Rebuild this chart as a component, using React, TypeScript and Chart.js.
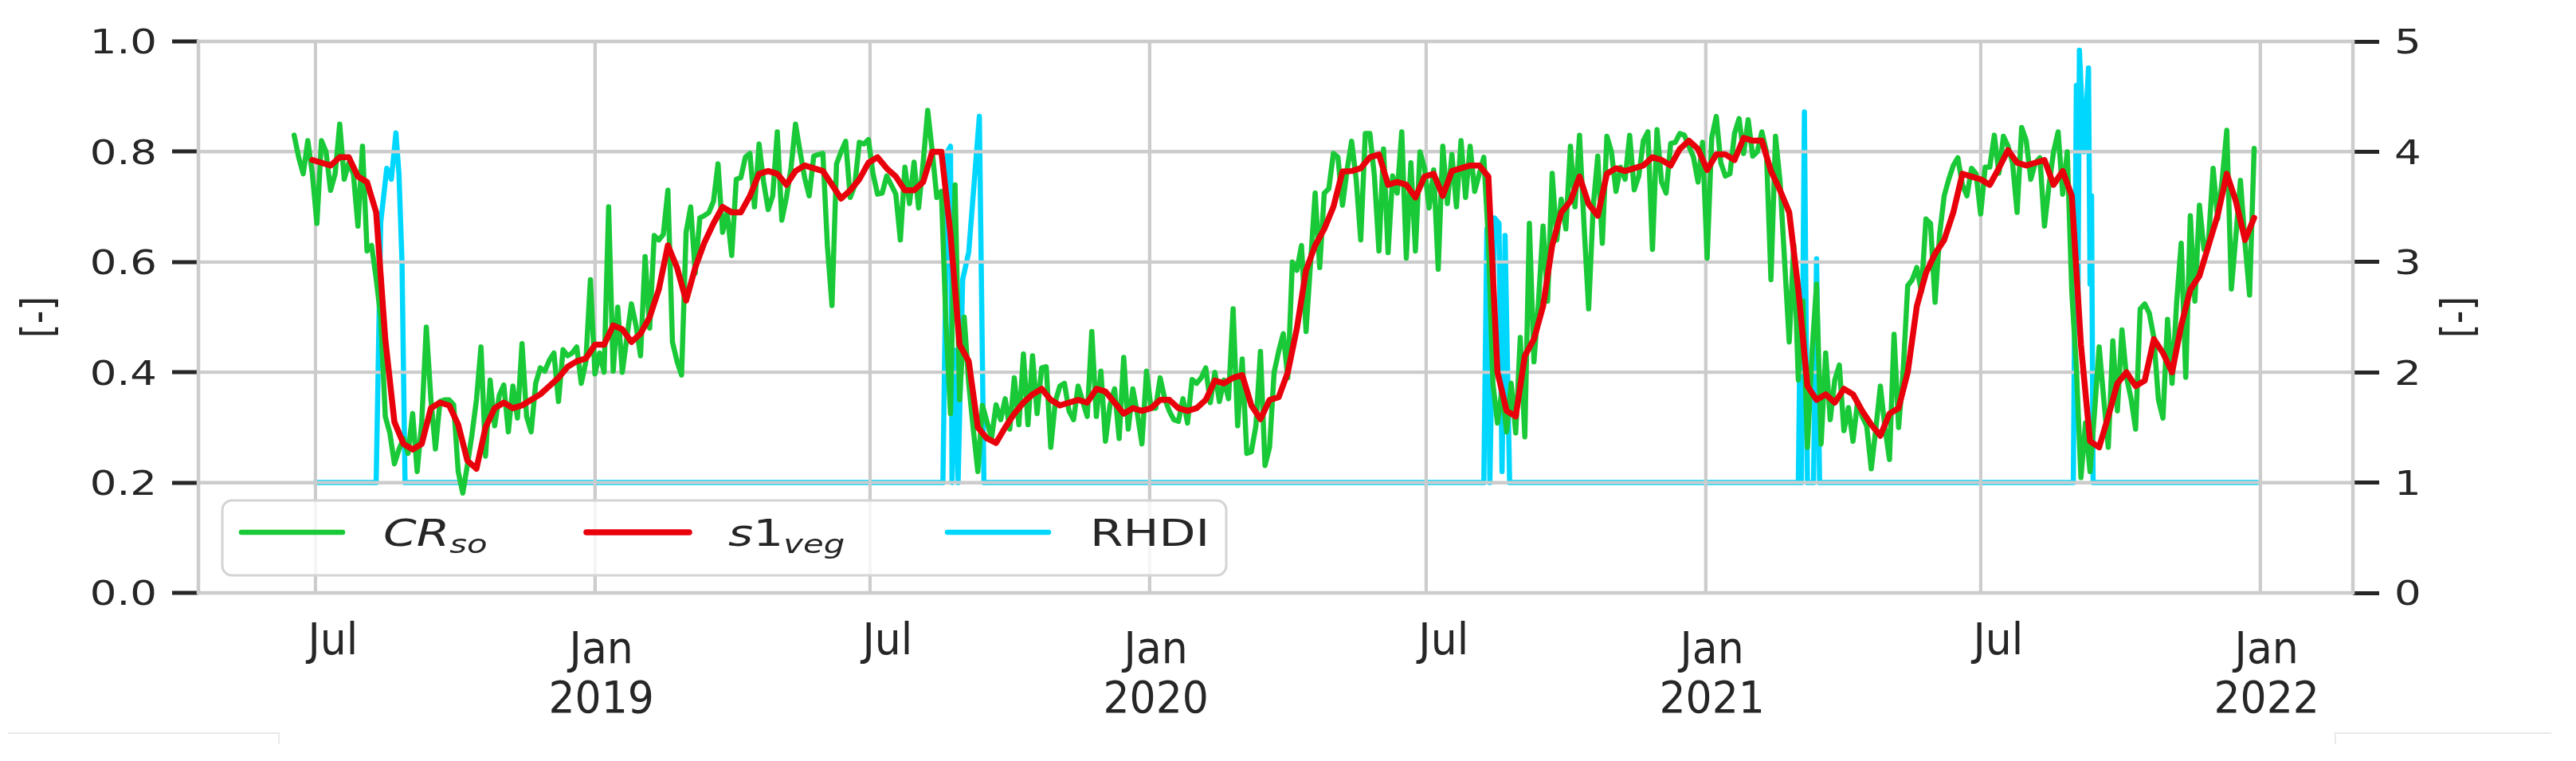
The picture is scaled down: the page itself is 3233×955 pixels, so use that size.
import React, { useEffect, useRef } from 'react';
import { Chart, registerables } from 'chart.js';

Chart.register(...registerables);

// ---------------- data ----------------
const SERIES_NAMES = ['CR_so', 's1_veg', 'RHDI'];
const SERIES_MATH = [true, true, false];
const SERIES_COLORS = ['#1AC938', '#E8000B', '#00D7FF'];

// CR_so: regular 3-day sampling
const CR_SO_START = '2018-06-17';
const CR_SO_STEP_DAYS = 3;
const CR_SO = [
  0.83, 0.79, 0.76, 0.82, 0.76, 0.67, 0.82, 0.80, 0.73, 0.76,
  0.85, 0.75, 0.78, 0.76, 0.665, 0.81, 0.62, 0.63, 0.57, 0.50,
  0.32, 0.29, 0.234, 0.26, 0.28, 0.253, 0.325, 0.22, 0.31, 0.482,
  0.352, 0.261, 0.347, 0.35, 0.35, 0.341, 0.22, 0.181, 0.231, 0.286,
  0.35, 0.446, 0.248, 0.386, 0.303, 0.358, 0.377, 0.292, 0.375, 0.317,
  0.452, 0.32, 0.292, 0.38, 0.408, 0.402, 0.422, 0.435, 0.347, 0.441,
  0.43, 0.435, 0.446, 0.38, 0.419, 0.568, 0.397, 0.435, 0.40, 0.70,
  0.402, 0.518,
  0.40, 0.463, 0.524, 0.485, 0.43, 0.61, 0.48, 0.648, 0.64, 0.65,
  0.73, 0.455, 0.42, 0.395, 0.654, 0.70, 0.58, 0.68, 0.684, 0.69,
  0.71, 0.778, 0.654, 0.69, 0.612, 0.75, 0.753, 0.79, 0.797, 0.70,
  0.814, 0.745, 0.695, 0.72, 0.836, 0.676, 0.717, 0.77, 0.85, 0.80,
  0.753, 0.72, 0.792, 0.795, 0.797, 0.629, 0.521, 0.778, 0.80, 0.819,
  0.717, 0.739, 0.817, 0.814, 0.822, 0.76, 0.723, 0.725, 0.756, 0.74,
  0.723, 0.64, 0.772, 0.706, 0.781, 0.698, 0.78, 0.875, 0.80, 0.717,
  0.728, 0.49,
  0.325, 0.74, 0.35, 0.50, 0.38, 0.297, 0.22, 0.34, 0.31, 0.28,
  0.341, 0.314, 0.352, 0.297, 0.39, 0.305, 0.433, 0.305, 0.43, 0.325,
  0.408, 0.41, 0.264, 0.347, 0.375, 0.38, 0.33, 0.314, 0.375, 0.347,
  0.32, 0.474, 0.32, 0.402, 0.275, 0.341, 0.37, 0.28, 0.427, 0.297,
  0.37, 0.325, 0.27, 0.402, 0.335, 0.335, 0.39, 0.352, 0.33, 0.314,
  0.311, 0.352, 0.308, 0.387, 0.38, 0.39, 0.408, 0.345, 0.40, 0.347,
  0.386, 0.352, 0.515, 0.303, 0.424, 0.253, 0.256, 0.303, 0.438, 0.231,
  0.264, 0.40,
  0.438, 0.47, 0.39, 0.60, 0.585, 0.63, 0.474, 0.60, 0.725, 0.59,
  0.725, 0.733, 0.797, 0.79, 0.703, 0.767, 0.819, 0.75, 0.64, 0.833,
  0.833, 0.756, 0.62, 0.805, 0.617, 0.756, 0.725, 0.836, 0.607, 0.78,
  0.62, 0.80, 0.77, 0.698, 0.767, 0.587, 0.81, 0.706, 0.795, 0.70,
  0.82, 0.717, 0.81, 0.728, 0.76, 0.79, 0.64, 0.38, 0.308, 0.369,
  0.292, 0.38, 0.29, 0.463, 0.283, 0.67, 0.419, 0.529, 0.665, 0.529,
  0.761, 0.64, 0.714, 0.66, 0.81, 0.70, 0.83, 0.665, 0.515, 0.70,
  0.792, 0.634, 0.828,
  0.80, 0.728, 0.772, 0.75, 0.83, 0.731, 0.756, 0.82, 0.836, 0.623,
  0.84, 0.745, 0.725, 0.815, 0.817, 0.833, 0.83, 0.81, 0.79, 0.745,
  0.817, 0.607, 0.825, 0.864, 0.78, 0.756, 0.76, 0.833, 0.86, 0.797,
  0.858, 0.792, 0.80, 0.836, 0.80, 0.568, 0.828, 0.745, 0.60, 0.455,
  0.631, 0.386, 0.529, 0.264, 0.435, 0.56, 0.27, 0.435, 0.314, 0.386,
  0.413, 0.294, 0.336, 0.275, 0.347, 0.32, 0.303, 0.225, 0.297, 0.375,
  0.30, 0.242, 0.469, 0.30, 0.402, 0.557, 0.568, 0.59, 0.546, 0.678,
  0.67, 0.527, 0.65,
  0.72, 0.75, 0.775, 0.789, 0.74, 0.72, 0.77, 0.76, 0.687, 0.772,
  0.772, 0.83, 0.761, 0.828, 0.81, 0.78, 0.69, 0.844, 0.82, 0.75,
  0.78, 0.789, 0.665, 0.739, 0.80, 0.836, 0.723, 0.80, 0.546, 0.408,
  0.209, 0.308, 0.22, 0.33, 0.446, 0.352, 0.264, 0.457, 0.33, 0.477,
  0.391, 0.352, 0.297, 0.515, 0.524, 0.507, 0.463, 0.35, 0.317, 0.496,
  0.38, 0.527, 0.634, 0.391, 0.684, 0.529, 0.703, 0.623, 0.64, 0.77,
  0.678, 0.75, 0.839, 0.551, 0.648, 0.748, 0.634, 0.54, 0.806,
];

// s1_veg: regular 6-day sampling
const S1_VEG_START = '2018-06-17';
const S1_VEG_STEP_DAYS = 6;
const S1_VEG = [
  null, null, 0.785, 0.78, 0.775, 0.79, 0.79, 0.755, 0.745, 0.69,
  0.46, 0.31, 0.27, 0.26, 0.27, 0.335, 0.345, 0.34, 0.305, 0.24,
  0.225, 0.30, 0.335, 0.345, 0.335, 0.34, 0.35, 0.36, 0.375, 0.39,
  0.41, 0.42, 0.425, 0.45, 0.45, 0.485,
  0.478, 0.455, 0.47, 0.50, 0.55, 0.63, 0.59, 0.53, 0.59, 0.635,
  0.67, 0.70, 0.69, 0.69, 0.72, 0.76, 0.765, 0.76, 0.74, 0.765,
  0.775, 0.77, 0.765, 0.74, 0.715, 0.73, 0.75, 0.78, 0.79, 0.77,
  0.755, 0.73, 0.73, 0.745, 0.80, 0.80,
  0.65, 0.45, 0.42, 0.30, 0.28, 0.272, 0.30, 0.325, 0.345, 0.36,
  0.37, 0.35, 0.34, 0.345, 0.35, 0.345, 0.37, 0.365, 0.345, 0.325,
  0.335, 0.33, 0.335, 0.35, 0.35, 0.335, 0.33, 0.335, 0.35, 0.385,
  0.38, 0.39, 0.395, 0.34, 0.315, 0.35,
  0.355, 0.40, 0.48, 0.585, 0.63, 0.66, 0.70, 0.764, 0.765, 0.77,
  0.79, 0.795, 0.74, 0.745, 0.74, 0.717, 0.755, 0.76, 0.72, 0.765,
  0.77, 0.775, 0.775, 0.755, 0.40, 0.33, 0.32, 0.43, 0.46, 0.52,
  0.63, 0.69, 0.71, 0.755, 0.705, 0.684, 0.76,
  0.77, 0.765, 0.77, 0.775, 0.79, 0.785, 0.775, 0.805, 0.82, 0.805,
  0.767, 0.795, 0.795, 0.785, 0.825, 0.82, 0.82, 0.765, 0.73, 0.69,
  0.55, 0.375, 0.35, 0.36, 0.345, 0.37, 0.36, 0.33, 0.305, 0.285,
  0.325, 0.335, 0.40, 0.52, 0.58, 0.615,
  0.64, 0.69, 0.76, 0.755, 0.75, 0.74, 0.77, 0.803, 0.78, 0.775,
  0.78, 0.785, 0.74, 0.765, 0.72, 0.45, 0.275, 0.264, 0.32, 0.38,
  0.40, 0.375, 0.385, 0.46, 0.435, 0.40, 0.485, 0.55, 0.575, 0.63,
  0.685, 0.76, 0.71, 0.64, 0.68,
];

const RHDI_DATES = [
  '2018-07-01', '2018-08-10', '2018-08-13', '2018-08-17', '2018-08-20', '2018-08-23', '2018-08-25', '2018-08-27', '2018-08-29',
  '2019-08-18', '2019-08-21', '2019-08-23', '2019-08-24', '2019-08-26', '2019-08-28', '2019-08-31', '2019-09-04', '2019-09-11', '2019-09-14',
  '2020-08-08', '2020-08-10', '2020-08-12', '2020-08-15', '2020-08-18', '2020-08-20', '2020-08-22', '2020-08-25',
  '2021-03-03', '2021-03-04', '2021-03-05', '2021-03-07', '2021-03-09', '2021-03-13', '2021-03-15', '2021-03-17',
  '2021-08-31', '2021-09-02', '2021-09-03', '2021-09-04', '2021-09-07', '2021-09-10', '2021-09-11', '2021-09-12', '2021-09-13',
  '2021-12-30',
];
const RHDI_VALUES = [
  1, 1, 3.36, 3.85, 3.75, 4.17, 3.8, 3.0, 1,
  1, 4.0, 4.05, 1, 2.2, 1, 2.84, 3.09, 4.32, 1,
  1, 3.3, 1, 3.4, 3.35, 1.1, 3.24, 1,
  1, 2.2, 1, 4.36, 1, 1, 3.03, 1,
  1, 4.6, 2.5, 4.92, 4.0, 4.76, 2.8, 3.6, 1,
  1,
];

const X_RANGE = ['2018-04-15', '2022-03-03'];
const X_TICK_DATES = ['2018-07-01', '2019-01-01', '2019-07-01', '2020-01-01', '2020-07-01', '2021-01-01', '2021-07-01', '2022-01-01'];
const X_TICK_MONTHS = ['Jul', 'Jan', 'Jul', 'Jan', 'Jul', 'Jan', 'Jul', 'Jan'];
const X_TICK_YEARS = ['', '2019', '', '2020', '', '2021', '', '2022'];
const LEFT_TICKS = [0, 0.2, 0.4, 0.6, 0.8, 1.0];
const RIGHT_TICKS = [0, 1, 2, 3, 4, 5];
const Y_TITLES = ['[-]', '[-]'];

// ---------------- helpers ----------------
const DAY_MS = 86400000;
const dayNum = (iso: string) => Date.parse(iso + 'T00:00:00Z') / DAY_MS;

const GRID = '#cccccc';
const TEXT = '#262626';
const FONT = '"DejaVu Sans"';
const LINE_WIDTHS = [6.5, 7.5, 6.5];

function txt(ctx: CanvasRenderingContext2D, s: string, x: number, y: number, font: string, sx: number, align: string, color: string) {
  ctx.save();
  ctx.font = font;
  ctx.fillStyle = color;
  ctx.textBaseline = 'alphabetic';
  ctx.textAlign = 'left';
  const w = ctx.measureText(s).width * sx;
  const x0 = align === 'left' ? x : align === 'right' ? x - w : x - w / 2;
  ctx.translate(x0, y);
  ctx.scale(sx, 1);
  ctx.fillText(s, 0, 0);
  ctx.restore();
  return w;
}

function drawLabel(ctx: CanvasRenderingContext2D, name: string, math: boolean, x: number, base: number, size: number, sx: number) {
  if (!math) {
    txt(ctx, name, x, base, `${size}px ${FONT}`, sx, 'left', TEXT);
    return;
  }
  const [main, sub] = name.split('_');
  let cx = x;
  for (const ch of main) {
    const f = /[0-9]/.test(ch) ? `${size}px ${FONT}` : `italic ${size}px ${FONT}`;
    cx += txt(ctx, ch, cx, base, f, sx, 'left', TEXT);
  }
  if (sub) {
    const ss = size * 0.7;
    for (const ch of sub) {
      const f = /[0-9]/.test(ch) ? `${ss}px ${FONT}` : `italic ${ss}px ${FONT}`;
      cx += txt(ctx, ch, cx, base + size * 0.2, f, sx, 'left', TEXT);
    }
  }
}

const decor = {
  id: 'decor',
  beforeDraw(chart: any) {
    const { ctx } = chart;
    ctx.save();
    ctx.fillStyle = '#ffffff';
    ctx.fillRect(0, 0, chart.width, chart.height);
    ctx.restore();
  },
  afterDatasetDraw(chart: any, args: any) {
    if (args.index !== 2) return;
    // grid drawn above the RHDI line
    const { ctx, chartArea: a, scales } = chart;
    ctx.save();
    ctx.strokeStyle = GRID;
    ctx.lineWidth = 4;
    ctx.beginPath();
    X_TICK_DATES.forEach((d) => {
      const x = scales.x.getPixelForValue(dayNum(d));
      ctx.moveTo(x, a.top);
      ctx.lineTo(x, a.bottom);
    });
    LEFT_TICKS.forEach((v) => {
      const y = scales.y.getPixelForValue(v);
      ctx.moveTo(a.left, y);
      ctx.lineTo(a.right, y);
    });
    ctx.stroke();
    ctx.restore();
  },
  afterDraw(chart: any) {
    const { ctx, chartArea: a, scales } = chart;
    // spines
    ctx.save();
    ctx.strokeStyle = GRID;
    ctx.lineWidth = 4.5;
    ctx.strokeRect(a.left, a.top, a.right - a.left, a.bottom - a.top);
    ctx.restore();

    // y tick labels
    const ySize = 42;
    LEFT_TICKS.forEach((v) => {
      const y = scales.y.getPixelForValue(v);
      txt(ctx, v.toFixed(1), 197, y + ySize * 0.3645, `${ySize}px ${FONT}`, 1.26, 'right', TEXT);
    });
    RIGHT_TICKS.forEach((v) => {
      const y = scales.y2.getPixelForValue(v);
      txt(ctx, String(v), 3005, y + ySize * 0.3645, `${ySize}px ${FONT}`, 1.26, 'left', TEXT);
    });

    // x tick labels
    const xSize = 56;
    X_TICK_DATES.forEach((d, i) => {
      const x = scales.x.getPixelForValue(dayNum(d));
      const year = X_TICK_YEARS[i];
      const top = year ? 791 : 780;
      const dx = year ? 8 : 22;
      txt(ctx, X_TICK_MONTHS[i], x + dx, top + xSize * 0.729, `${xSize}px ${FONT}`, 0.93, 'center', TEXT);
      if (year) txt(ctx, year, x + dx, 853 + xSize * 0.729, `${xSize}px ${FONT}`, 0.93, 'center', TEXT);
    });

    // y axis titles (rotated)
    const tSize = 46;
    [[52, Y_TITLES[0]], [3089, Y_TITLES[1]]].forEach(([cx, s]: any) => {
      const cy = (a.top + a.bottom) / 2;
      ctx.save();
      ctx.translate(cx, cy);
      ctx.scale(1.2, 1);
      ctx.rotate(-Math.PI / 2);
      ctx.font = `${tSize}px ${FONT}`;
      ctx.fillStyle = TEXT;
      ctx.textAlign = 'center';
      ctx.textBaseline = 'middle';
      ctx.fillText(s, 0, 0);
      ctx.restore();
    });

    // legend
    ctx.save();
    ctx.beginPath();
    (ctx as any).roundRect(279, 628, 1260, 94, 12);
    ctx.fillStyle = 'rgba(255,255,255,0.8)';
    ctx.fill();
    ctx.strokeStyle = '#d4d4d4';
    ctx.lineWidth = 3;
    ctx.stroke();
    ctx.restore();
    const handles = [[303, 430, 481], [736, 865, 914], [1189, 1316, 1368]];
    SERIES_NAMES.forEach((name, i) => {
      const [x1, x2, tx] = handles[i];
      ctx.save();
      ctx.strokeStyle = SERIES_COLORS[i];
      ctx.lineWidth = LINE_WIDTHS[i];
      ctx.lineCap = 'round';
      ctx.beginPath();
      ctx.moveTo(x1, 668);
      ctx.lineTo(x2, 668);
      ctx.stroke();
      ctx.restore();
      drawLabel(ctx, name, SERIES_MATH[i], tx, 685, 46, 1.3);
    });

    // faint frame remnants at the bottom of the image
    ctx.save();
    ctx.strokeStyle = '#e9e9ee';
    ctx.lineWidth = 2;
    ctx.beginPath();
    ctx.moveTo(10, 920); ctx.lineTo(350, 920); ctx.lineTo(350, 934);
    ctx.moveTo(3202, 920); ctx.lineTo(2931, 920); ctx.lineTo(2931, 934);
    ctx.stroke();
    ctx.restore();
  },
};

export default function App() {
  const ref = useRef<HTMLCanvasElement | null>(null);
  useEffect(() => {
    const canvas = ref.current;
    if (!canvas) return;
    const g0 = dayNum(CR_SO_START);
    const r0 = dayNum(S1_VEG_START);
    const green = CR_SO.map((v, i) => ({ x: g0 + i * CR_SO_STEP_DAYS, y: v }));
    const red = S1_VEG.map((v, i) => ({ x: r0 + i * S1_VEG_STEP_DAYS, y: v })).filter((p) => p.y !== null);
    const cyan = RHDI_DATES.map((d, i) => ({ x: dayNum(d), y: RHDI_VALUES[i] }));
    const common = { pointRadius: 0, tension: 0, borderJoinStyle: 'round', borderCapStyle: 'round' };
    const chart = new Chart(canvas, {
      type: 'line',
      data: {
        datasets: [
          { ...common, label: SERIES_NAMES[0], data: green, borderColor: SERIES_COLORS[0], borderWidth: LINE_WIDTHS[0], yAxisID: 'y', order: 2 },
          { ...common, label: SERIES_NAMES[1], data: red as any, borderColor: SERIES_COLORS[1], borderWidth: LINE_WIDTHS[1], yAxisID: 'y', order: 1 },
          { ...common, label: SERIES_NAMES[2], data: cyan, borderColor: SERIES_COLORS[2], borderWidth: LINE_WIDTHS[2], yAxisID: 'y2', order: 3 },
        ],
      } as any,
      options: {
        responsive: false,
        animation: false,
        devicePixelRatio: 1,
        layout: { padding: { top: 52, left: 0, right: 0, bottom: 0 } },
        plugins: { legend: { display: false }, tooltip: { enabled: false } },
        scales: {
          x: {
            type: 'linear',
            min: dayNum(X_RANGE[0]),
            max: dayNum(X_RANGE[1]),
            afterBuildTicks: (s: any) => { s.ticks = X_TICK_DATES.map((d) => ({ value: dayNum(d) })); },
            afterFit: (s: any) => { s.height = 211; },
            grid: { color: GRID, lineWidth: 4, drawTicks: false },
            border: { display: false },
            ticks: { display: false },
          },
          y: {
            position: 'left',
            min: 0,
            max: 1,
            afterBuildTicks: (s: any) => { s.ticks = LEFT_TICKS.map((v) => ({ value: v })); },
            afterFit: (s: any) => { s.width = 249; },
            grid: { color: GRID, lineWidth: 4, tickColor: TEXT, tickLength: 33, tickWidth: 5 },
            border: { display: false },
            ticks: { display: false },
          },
          y2: {
            position: 'right',
            min: 0,
            max: 5,
            afterBuildTicks: (s: any) => { s.ticks = RIGHT_TICKS.map((v) => ({ value: v })); },
            afterFit: (s: any) => { s.width = 280; },
            grid: { drawOnChartArea: false, tickColor: TEXT, tickLength: 33, tickWidth: 5 },
            border: { display: false },
            ticks: { display: false },
          },
        },
      } as any,
      plugins: [decor],
    });
    return () => chart.destroy();
  }, []);
  return (
    <div style={{ position: 'absolute', left: 0, top: 0, width: 3233, height: 955, background: '#fff' }}>
      <canvas ref={ref} width={3233} height={955} style={{ display: 'block', width: 3233, height: 955 }} />
    </div>
  );
}
